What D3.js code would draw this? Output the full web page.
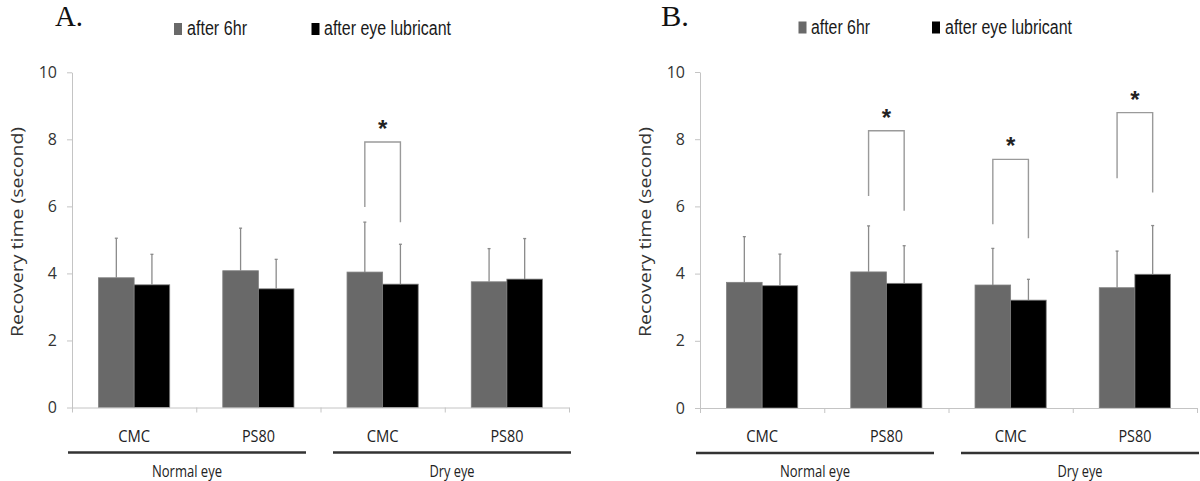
<!DOCTYPE html>
<html><head><meta charset="utf-8">
<script src="https://cdn.jsdelivr.net/npm/d3@7"></script>
<style>body{margin:0;background:#fff}svg{display:block}</style>
</head><body><svg id="c" width="1200" height="481"></svg>
<script>
const categories = ["CMC","PS80","CMC","PS80"];
const groups = ["Normal eye","Dry eye"];
const seriesNames = ["after 6hr","after eye lubricant"];
const seriesColors = ["#696969","#000000"];
const yTicks = [0,2,4,6,8,10];

const A_after6hr    = [3.87,4.08,4.04,3.75];
const A_after6hrSD  = [1.18,1.27,1.49,0.99];
const A_lubricant   = [3.66,3.54,3.68,3.83];
const A_lubricantSD = [0.91,0.88,1.19,1.21];
const A_sigCat   = [2];
const A_sigTop   = [7.92];
const A_sigLeft  = [5.98];
const A_sigRight = [5.53];

const B_after6hr    = [3.74,4.05,3.66,3.58];
const B_after6hrSD  = [1.36,1.37,1.09,1.09];
const B_lubricant   = [3.64,3.71,3.21,3.98];
const B_lubricantSD = [0.94,1.12,0.62,1.45];
const B_sigCat   = [1,2,3];
const B_sigTop   = [8.25,7.40,8.79];
const B_sigLeft  = [6.31,5.47,6.84];
const B_sigRight = [5.87,5.05,6.41];

const svg = d3.select("#c");
const AX = "#c4c4c4";

function panel(o){
  const g = svg.append("g");
  const y = d3.scaleLinear().domain([0,10]).range([o.yb,o.yt]);
  const x = d3.scaleBand().domain(d3.range(categories.length)).range([o.xl,o.xr])
    .paddingInner(0.427).paddingOuter(0.2135);
  const xs = d3.scaleBand().domain([0,1]).range([0,x.bandwidth()]);
  const xl = d3.scaleLinear().domain([0,categories.length]).range([o.xl,o.xr]);

  // title
  g.append("text").attr("x",o.titleX).attr("y",26).text(o.title)
    .attr("font-family","'Liberation Serif','DejaVu Serif',serif").attr("font-size",29)
    .attr("textLength",28).attr("lengthAdjust","spacingAndGlyphs").attr("fill","#111");

  // legend
  o.legend.forEach((L,i)=>{
    g.append("rect").attr("x",L.sx).attr("y",o.legY-12).attr("width",8).attr("height",12)
      .attr("fill",seriesColors[i]);
    g.append("text").attr("x",L.tx).attr("y",o.legY).text(seriesNames[i])
      .attr("font-family","'Liberation Sans Narrow','Liberation Sans',Arial,sans-serif")
      .attr("font-size",20).attr("textLength",L.w).attr("lengthAdjust","spacingAndGlyphs").attr("fill","#1a1a1a");
  });

  // y axis
  const ya = g.append("g").attr("transform",`translate(${o.xl},0)`)
    .call(d3.axisLeft(y).tickValues(yTicks).tickSize(5).tickPadding(10).tickSizeOuter(0));
  ya.select(".domain").attr("stroke",AX);
  ya.selectAll(".tick line").attr("stroke",AX);
  ya.selectAll("text").attr("font-family","'Open Sans',sans-serif").attr("font-size",16).attr("fill","#333");

  // y label
  g.append("text").attr("transform",`translate(${o.xl-49},${(o.yb+o.yt)/2-8}) rotate(-90)`)
    .attr("text-anchor","middle").text("Recovery time (second)")
    .attr("font-family","'Open Sans',sans-serif").attr("font-size",16).attr("fill","#333")
    .attr("textLength",210).attr("lengthAdjust","spacingAndGlyphs");

  // bars
  const series = [o.s1,o.s2], sds = [o.e1,o.e2];
  series.forEach((vals,s)=>{
    g.selectAll(null).data(vals).enter().append("rect")
      .attr("x",(d,i)=>x(i)+xs(s)).attr("y",d=>y(d))
      .attr("width",xs.bandwidth()).attr("height",d=>y(0)-y(d))
      .attr("fill",seriesColors[s]).attr("stroke","#808080").attr("stroke-width",0.8);
  });
  // error bars
  series.forEach((vals,s)=>{
    vals.forEach((v,i)=>{
      const cx = x(i)+xs(s)+xs.bandwidth()/2;
      g.append("line").attr("x1",cx).attr("x2",cx).attr("y1",y(v)).attr("y2",y(v+sds[s][i]))
        .attr("stroke","#8a8a8a").attr("stroke-width",1.3);
      g.append("line").attr("x1",cx-1.5).attr("x2",cx+1.5).attr("y1",y(v+sds[s][i])).attr("y2",y(v+sds[s][i]))
        .attr("stroke","#8a8a8a").attr("stroke-width",1.3);
    });
  });

  // x axis
  const xa = g.append("g").attr("transform",`translate(0,${o.yb})`)
    .call(d3.axisBottom(xl).tickValues(d3.range(categories.length+1)).tickFormat("").tickSize(5).tickSizeOuter(0));
  xa.select(".domain").attr("stroke",AX);
  xa.selectAll(".tick line").attr("stroke",AX);

  // significance brackets
  o.sigCat.forEach((c,k)=>{
    const x0 = x(c)+xs(0)+xs.bandwidth()/2, x1 = x(c)+xs(1)+xs.bandwidth()/2;
    g.append("path").attr("d",`M${x0},${y(o.sigLeft[k])}V${y(o.sigTop[k])}H${x1}V${y(o.sigRight[k])}`)
      .attr("fill","none").attr("stroke","#9a9a9a").attr("stroke-width",1.4);
    g.append("text").attr("x",(x0+x1)/2).attr("y",y(o.sigTop[k])-5).attr("text-anchor","middle").text("*")
      .attr("font-family","'Liberation Sans',Arial,sans-serif").attr("font-weight","bold").attr("font-size",24).attr("fill","#222");
  });

  // category labels
  categories.forEach((c,i)=>{
    g.append("text").attr("x",x(i)+x.bandwidth()/2).attr("y",o.yb+34).attr("text-anchor","middle").text(c)
      .attr("font-family","'Open Sans',sans-serif").attr("font-size",17).attr("fill","#222")
      .attr("textLength",c==="CMC"?32:33).attr("lengthAdjust","spacingAndGlyphs");
  });

  // group lines and labels
  groups.forEach((gr,j)=>{
    const a = j===0 ? xl(0)-4 : xl(2)+12.5;
    const b = j===0 ? xl(2)-14.5 : xl(4)+2;
    g.append("line").attr("x1",a).attr("x2",b).attr("y1",o.yb+45).attr("y2",o.yb+45)
      .attr("stroke","#333").attr("stroke-width",2.5);
    g.append("text").attr("x",(a+b)/2).attr("y",o.yb+69).attr("text-anchor","middle").text(gr)
      .attr("font-family","'Open Sans',sans-serif").attr("font-size",16).attr("fill","#222")
      .attr("textLength",j===0?70:45).attr("lengthAdjust","spacingAndGlyphs");
  });
}

panel({xl:72,xr:569,yb:407.5,yt:72.3,title:"A.",titleX:55,legY:35,
  legend:[{sx:174,tx:187,w:60},{sx:311.5,tx:324,w:127}],
  s1:A_after6hr,e1:A_after6hrSD,s2:A_lubricant,e2:A_lubricantSD,
  sigCat:A_sigCat,sigTop:A_sigTop,sigLeft:A_sigLeft,sigRight:A_sigRight});

panel({xl:700,xr:1197,yb:408,yt:72,title:"B.",titleX:661,legY:33.5,
  legend:[{sx:798.5,tx:811,w:59},{sx:932,tx:945,w:127}],
  s1:B_after6hr,e1:B_after6hrSD,s2:B_lubricant,e2:B_lubricantSD,
  sigCat:B_sigCat,sigTop:B_sigTop,sigLeft:B_sigLeft,sigRight:B_sigRight});
</script></body></html>
